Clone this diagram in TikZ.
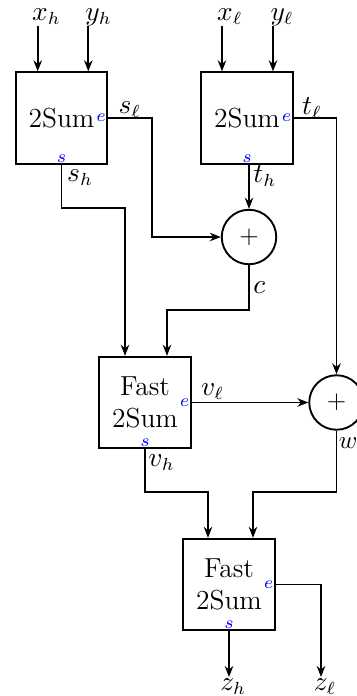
\documentclass[tikz,border=0pt]{standalone}
\usetikzlibrary{arrows.meta}
\begin{document}
\begin{tikzpicture}[x=0.4pt,y=-0.4pt,
  blk/.style={draw, line width=0.75pt, minimum width=36.6pt, minimum height=36.6pt, inner sep=0pt, align=center, font=\fontsize{11}{12.5}\selectfont},
  adder/.style={draw, circle, line width=0.75pt, minimum size=21.8pt, inner sep=0pt},
  wire/.style={line width=0.75pt},
  arr/.style={wire, -{Stealth[length=4.4pt,width=3.4pt]}},
  pe/.style={label={[blue,font=\fontsize{7.5}{9}\selectfont,anchor=east,inner sep=0.7pt]east:$e$}},
  ps/.style={label={[blue,font=\fontsize{7.5}{9}\selectfont,anchor=south,inner sep=0.7pt]south:$s$}},
  lbl/.style={inner sep=0pt, anchor=base west, font=\fontsize{10.5}{12.5}\selectfont},
]
\useasboundingbox (0,0) rectangle (357,696);

% blocks
\node[blk,pe,ps] (b1) at (61.5,118) {2Sum};
\node[blk,pe,ps] (b2) at (247,118) {2Sum};
\node[adder] (c) at (249,237) {$+$};
\node[blk,pe,ps] (f1) at (145,402.5) {Fast\\2Sum};
\node[adder] (w) at (336.5,402.5) {$+$};
\node[blk,pe,ps] (f3) at (229,584.5) {Fast\\2Sum};

% input labels
\node[lbl] (xh) at (31.7,20) {$x_h$};
\node[lbl] (yh) at (85,20) {$y_h$};
\node[lbl] (xl) at (216.7,20) {$x_\ell$};
\node[lbl] (yl) at (270,20) {$y_\ell$};
\coordinate (ixh) at (37.7,26);
\coordinate (iyh) at (88.3,26);
\coordinate (ixl) at (222,26);
\coordinate (iyl) at (273,26);
\draw[arr] (ixh) -- (ixh |- b1.north);
\draw[arr] (iyh) -- (iyh |- b1.north);
\draw[arr] (ixl) -- (ixl |- b2.north);
\draw[arr] (iyl) -- (iyl |- b2.north);

% wire labels
\node[lbl] (lsl) at (118,113.3) {$s_\ell$};
\node[lbl] (ltl) at (301.7,114.5) {$t_\ell$};
\node[lbl] (lsh) at (66.7,181) {$s_h$};
\node[lbl] (lth) at (253,182) {$t_h$};
\node[lbl] (lc) at (253,293) {$c$};
\node[lbl] (lvl) at (200.7,395) {$v_\ell$};
\node[lbl,font=\normalsize] (lw) at (338.5,448) {$w$};
\node[lbl] (lvh) at (148,466.5) {$v_h$};

% junction coordinates
\coordinate (k1) at (152,237);
\coordinate (j2) at (125,208);
\coordinate (j3) at (167,310);
\coordinate (j5) at (208,492);
\coordinate (j6) at (253,492);
\coordinate (ozh) at (229,677);
\coordinate (ozl) at (321,677);

% connectors
\draw[arr] (b1.east) -| (k1) -- (c.west);
\draw[arr] (b1.south) |- (j2) -- (j2 |- f1.north);
\draw[arr] (c.north |- b2.south) -- (c.north);
\draw[arr] (b2.east) -| (w.north);
\draw[arr] (c.south) |- (j3) -- (j3 |- f1.north);
\draw[arr] (f1.east) -- (w.west);
\draw[arr] (f1.south) |- (j5) -- (j5 |- f3.north);
\draw[arr] (w.south) |- (j6) -- (j6 |- f3.north);
\draw[arr] (f3.east) -| (ozl);
\draw[arr] (f3.south) -- (ozh);

% output labels
\node[lbl] (zh) at (220,690) {$z_h$};
\node[lbl] (zl) at (313.3,690) {$z_\ell$};
\end{tikzpicture}
\end{document}
